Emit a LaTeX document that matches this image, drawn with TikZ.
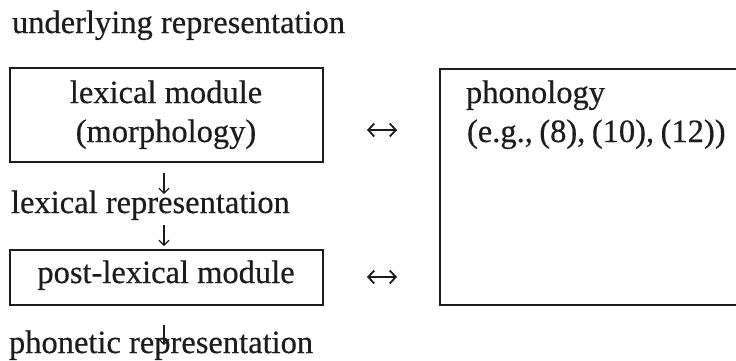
\documentclass[tikz,border=0pt]{standalone}
\usepackage{fontspec}
\setmainfont{Liberation Serif}[FakeBold=0.45]
\usetikzlibrary{arrows.meta}
\definecolor{ink}{RGB}{28,28,28}
\tikzset{
  x=1pt, y=-1pt,
  every node/.style={inner sep=0pt, outer sep=0pt, text=ink,
    font=\fontsize{32.5}{38}\selectfont},
  modbox/.style={draw=ink, line width=1.6pt, anchor=north west},
  lefttext/.style={anchor=base west},
  midtext/.style={anchor=base},
  down/.style={draw=ink, line width=1.1pt,
    -{Straight Barb[length=5pt,width=10pt,line width=1.1pt]}},
  both/.style={draw=ink, line width=1.8pt,
    {Straight Barb[length=6pt,width=13pt,line width=1.8pt]}-{Straight Barb[length=6pt,width=13pt,line width=1.8pt]}},
}
\begin{document}
\begin{tikzpicture}
\useasboundingbox (0,0) rectangle (736,360);

% left column
\node[lefttext] (ur) at (12,33) {underlying representation};

\node[modbox, minimum width=313pt, minimum height=94pt] (lex) at (10,68) {};
\node[midtext] (lexa) at (166,103) {lexical module};
\node[midtext] (lexb) at (166,142) {(morphology)};

\node[lefttext] (lr) at (11,213) {lexical representation};

\node[modbox, minimum width=313pt, minimum height=55pt] (post) at (10,250) {};
\node[midtext] (postt) at (166,283) {post-lexical module};

\node[lefttext] (pr) at (9,353) {phonetic representation};

% right column
\node[modbox, minimum width=310pt, minimum height=236pt] (phon) at (440,69) {};
\node[lefttext] (pha) at (466,103) {phonology};
\node[lefttext] (phb) at (467,142) {\spaceskip=0.2em (e.g., (8), (10), (12))};

% downward steps
\coordinate (d1a) at (164,173); \coordinate (d1b) at (164,194);
\coordinate (d2a) at (164,225); \coordinate (d2b) at (164,246);
\coordinate (d3a) at (164,325); \coordinate (d3b) at (164,345);
\draw[down] (d1a) -- (d1b);
\draw[down] (d2a) -- (d2b);
\draw[down] (d3a) -- (d3b);

% interaction with phonology
\coordinate (h1a) at (367,130); \coordinate (h1b) at (397,130);
\coordinate (h2a) at (367,277); \coordinate (h2b) at (397,277);
\draw[both] (h1a) -- (h1b);
\draw[both] (h2a) -- (h2b);
\end{tikzpicture}
\end{document}
